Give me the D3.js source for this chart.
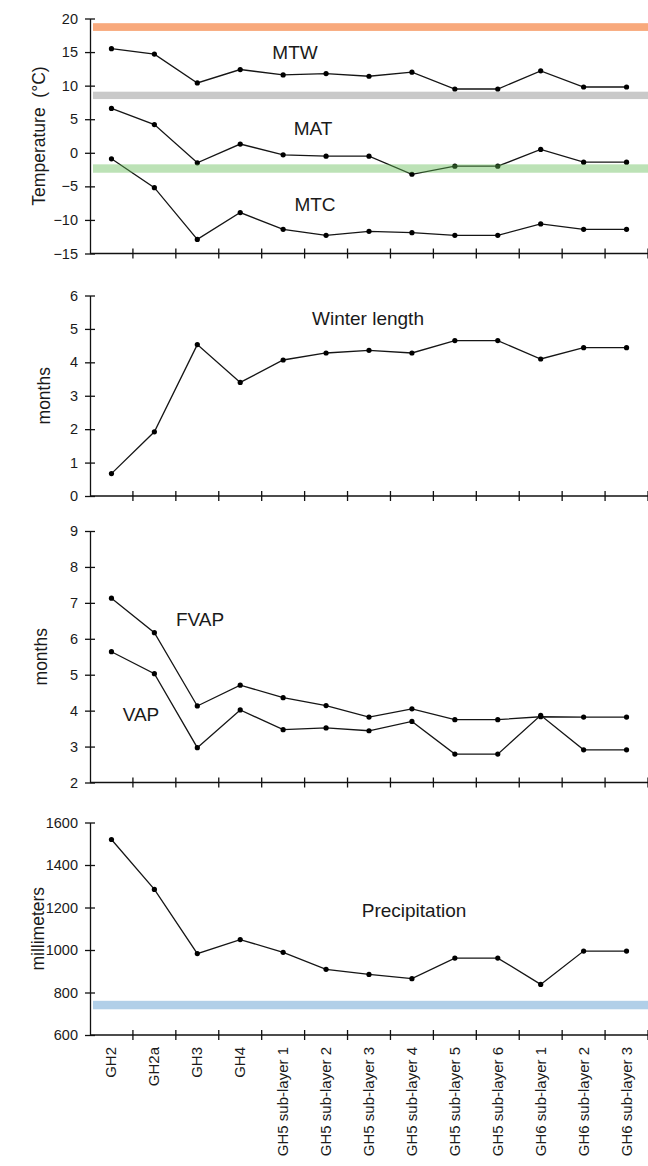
<!DOCTYPE html>
<html><head><meta charset="utf-8">
<script src="https://cdn.jsdelivr.net/npm/d3@7"></script>
<style>
html,body{margin:0;padding:0;background:#fff;}
svg{display:block;}
text{font-family:"Liberation Sans",Arial,sans-serif;fill:#1a1a1a;}
</style></head>
<body>
<svg id="chart" width="648" height="1166"></svg>
<script>
// ---- data ----
const categories = ["GH2","GH2a","GH3","GH4",
  "GH5 sub-layer 1","GH5 sub-layer 2","GH5 sub-layer 3","GH5 sub-layer 4","GH5 sub-layer 5","GH5 sub-layer 6",
  "GH6 sub-layer 1","GH6 sub-layer 2","GH6 sub-layer 3"];

const MTW = [15.5,14.7,10.4,12.4,11.6,11.8,11.4,12.0,9.5,9.5,12.2,9.8,9.8];
const MAT = [6.6,4.2,-1.5,1.3,-0.3,-0.5,-0.5,-3.2,-2.0,-2.0,0.5,-1.4,-1.4];
const MTC = [-0.9,-5.2,-12.9,-8.9,-11.4,-12.3,-11.7,-11.9,-12.3,-12.3,-10.6,-11.4,-11.4];
const winterLength = [0.67,1.92,4.53,3.40,4.07,4.28,4.36,4.28,4.65,4.65,4.10,4.44,4.44];
const FVAP = [7.13,6.17,4.13,4.71,4.36,4.14,3.82,4.05,3.75,3.75,3.83,3.82,3.82];
const VAP = [5.64,5.03,2.97,4.02,3.47,3.52,3.44,3.70,2.79,2.79,3.87,2.91,2.91];
const precipitation = [1520,1285,983,1049,989,909,885,865,962,962,838,995,995];

const tempTicks = [20,15,10,5,0,-5,-10,-15];
const winterTicks = [6,5,4,3,2,1,0];
const vapTicks = [9,8,7,6,5,4,3,2];
const precipTicks = [1600,1400,1200,1000,800,600];

// reference bands [low, high]
const bandMTW = [8.0, 9.1];
const bandWarm = [18.15, 19.3];
const bandMAT = [-2.97, -1.72];
const bandPrecip = [721, 761];

// ---- layout ----
const svg = d3.select("#chart");
const x = d3.scaleBand().domain(categories).range([90, 648]);
const axisX = 90;

const panels = [
  { domain:[-15,20], range:[253.5,18.5], ticks:tempTicks, title:"Temperature  (°C)", titleX:45,
    series:[MTW,MAT,MTC],
    bandsUnder:[{v:bandWarm,c:"#f8a97c"},{v:bandMTW,c:"#c9c9c9"}],
    bandsOver:[{v:bandMAT,c:"rgba(95,185,80,0.42)"}],
    labels:[{t:"MTW",x:295,y:59},{t:"MAT",x:313,y:135},{t:"MTC",x:315,y:211}] },
  { domain:[0,6], range:[496,295.5], ticks:winterTicks, title:"months", titleX:50,
    series:[winterLength], bandsUnder:[], bandsOver:[],
    labels:[{t:"Winter length",x:368,y:325}] },
  { domain:[2,9], range:[782.5,531], ticks:vapTicks, title:"months", titleX:47,
    series:[FVAP,VAP], bandsUnder:[], bandsOver:[],
    labels:[{t:"FVAP",x:200,y:626},{t:"VAP",x:141,y:721}] },
  { domain:[600,1600], range:[1035,822.5], ticks:precipTicks, title:"millimeters", titleX:44,
    series:[precipitation], bandsUnder:[{v:bandPrecip,c:"#b1cfe8"}], bandsOver:[],
    labels:[{t:"Precipitation",x:414,y:917}], xLabels:true }
];

panels.forEach(p => {
  const y = d3.scaleLinear().domain(p.domain).range(p.range);
  const g = svg.append("g");

  const drawBands = (arr) => arr.forEach(b => {
    g.append("rect")
      .attr("x", axisX + 3).attr("width", 648 - axisX - 3)
      .attr("y", y(b.v[1])).attr("height", y(b.v[0]) - y(b.v[1]))
      .attr("fill", b.c);
  });
  drawBands(p.bandsUnder);

  // y axis
  const yAxis = d3.axisLeft(y).tickValues(p.ticks).tickSize(0).tickPadding(12).tickFormat(d3.format("d"));
  const ya = g.append("g").attr("transform", `translate(${axisX},0)`).call(yAxis);
  ya.select(".domain").attr("stroke","#111").attr("stroke-width",1.3);
  ya.selectAll(".tick text").attr("font-size",14.5).attr("fill","#1a1a1a")
    .style("font-family","'Liberation Sans',Arial,sans-serif");
  ya.selectAll(".tick").append("line").attr("x1",-5).attr("x2",5).attr("stroke","#111").attr("stroke-width",1.3);

  // x axis
  const xb = p.range[0];
  const xa = g.append("g");
  xa.append("line").attr("x1",axisX).attr("x2",648).attr("y1",xb).attr("y2",xb)
    .attr("stroke","#111").attr("stroke-width",1.3);
  const bounds = categories.map(c => x(c)).concat([x.range()[1]]);
  xa.selectAll("line.xt").data(bounds.slice(1)).join("line").attr("class","xt")
    .attr("x1",d=>d).attr("x2",d=>d).attr("y1",xb-5).attr("y2",xb+5)
    .attr("stroke","#111").attr("stroke-width",1.3);

  if (p.xLabels) {
    xa.selectAll("text.xl").data(categories).join("text").attr("class","xl")
      .attr("transform", d => `translate(${x(d)+x.bandwidth()/2+5},${xb+12}) rotate(-90)`)
      .attr("text-anchor","end").attr("font-size",15).text(d=>d);
  }

  // series
  const line = d3.line().x((d,i)=>x(categories[i])+x.bandwidth()/2).y(d=>y(d));
  p.series.forEach(s => {
    g.append("path").datum(s).attr("d",line).attr("fill","none")
      .attr("stroke","#151515").attr("stroke-width",1.3);
    g.selectAll(null).data(s).join("circle")
      .attr("cx",(d,i)=>x(categories[i])+x.bandwidth()/2).attr("cy",d=>y(d))
      .attr("r",2.6).attr("fill","#000");
  });

  drawBands(p.bandsOver);

  // labels
  p.labels.forEach(l => {
    g.append("text").attr("x",l.x).attr("y",l.y).attr("text-anchor","middle")
      .attr("font-size",19).text(l.t);
  });

  // axis title
  const cy = (p.range[0]+p.range[1])/2;
  g.append("text").attr("transform",`translate(${p.titleX},${cy}) rotate(-90)`)
    .attr("text-anchor","middle").attr("font-size",17.5)
    .style("white-space","pre").attr("xml:space","preserve").text(p.title);
});
</script>
</body></html>
